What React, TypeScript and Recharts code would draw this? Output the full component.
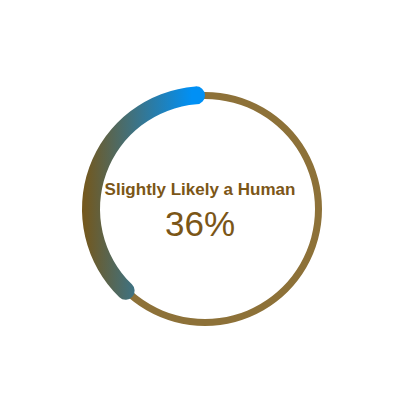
import { PieChart, Pie, Cell, Label } from "recharts"

const labels = ["Slightly Likely a Human"]
const scores = [36]
// share of the ring covered by the coloured arc, as drawn in the picture
const arcShares = [39]
const track = [{ name: "track", value: 100 }]

export default function App() {
  const score = scores[0]
  const progress = [{ name: "score", value: arcShares[0] }]
  // gauge starts at 12 o'clock and runs counter-clockwise
  const start = 90
  const end = start + (arcShares[0] / 100) * 360

  return (
    <div style={{ position: "fixed", left: 0, top: 0, width: 400, height: 400, background: "#fff" }}>
      <PieChart width={400} height={400}>
        <defs>
          <linearGradient id="gaugeGradient" x1="78" y1="0" x2="192" y2="0" gradientUnits="userSpaceOnUse">
            <stop offset="0%" stopColor="#7a5512" />
            <stop offset="100%" stopColor="#0090f5" />
          </linearGradient>
        </defs>
        <Pie
          data={track}
          dataKey="value"
          cx={200}
          cy={204}
          innerRadius={110}
          outerRadius={117}
          startAngle={90}
          endAngle={450}
          stroke="none"
          isAnimationActive={false}
        >
          <Cell fill="#8d7138" />
          <Label
            position="center"
            content={() => (
              <g fontFamily="Liberation Sans, Arial, sans-serif" textAnchor="middle">
                <text x={200} y={195} fontSize={17} fontWeight="bold" fill="#7b5617">
                  {labels[0]}
                </text>
                <text x={200} y={236} fontSize={35} fill="#7b5617">
                  {score}%
                </text>
              </g>
            )}
          />
        </Pie>
        <Pie
          data={progress}
          dataKey="value"
          cx={200}
          cy={204}
          innerRadius={105}
          outerRadius={123}
          startAngle={start}
          endAngle={end}
          cornerRadius={9}
          stroke="none"
          isAnimationActive={false}
        >
          <Cell fill="url(#gaugeGradient)" />
        </Pie>
      </PieChart>
    </div>
  )
}
